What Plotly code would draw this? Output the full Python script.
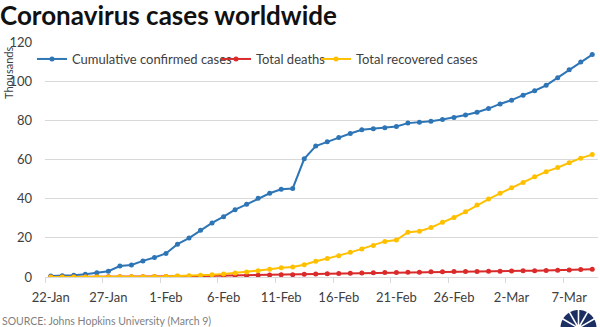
import math
import pandas as pd
import plotly.graph_objects as go

# ---- data (thousands) ----
dates = pd.date_range("2020-01-22", "2020-03-09", freq="D")
confirmed = [0.555, 0.654, 0.941, 1.434, 2.118, 2.927, 5.578, 6.166, 8.234, 9.927,
             12.038, 16.787, 19.881, 23.892, 27.635, 30.794, 34.391, 37.120, 40.150, 42.762,
             44.802, 45.221, 60.368, 66.885, 69.030, 71.224, 73.258, 75.136, 75.639, 76.197,
             76.823, 78.579, 78.965, 79.568, 80.413, 81.395, 82.754, 84.120, 86.011,
             88.369, 90.306, 92.840, 95.120, 97.886, 101.801, 105.847, 109.821, 113.590]
deaths = [0.017, 0.018, 0.026, 0.042, 0.056, 0.082, 0.131, 0.133, 0.171, 0.213,
          0.259, 0.362, 0.426, 0.492, 0.564, 0.634, 0.719, 0.806, 0.906, 1.013,
          1.113, 1.118, 1.371, 1.523, 1.666, 1.770, 1.868, 2.007, 2.122, 2.247,
          2.251, 2.458, 2.469, 2.629, 2.708, 2.770, 2.814, 2.872, 2.941,
          2.996, 3.085, 3.160, 3.254, 3.348, 3.460, 3.558, 3.802, 3.988]
recovered = [0.028, 0.030, 0.036, 0.039, 0.052, 0.061, 0.107, 0.126, 0.143, 0.222,
             0.284, 0.472, 0.623, 0.852, 1.124, 1.487, 2.011, 2.616, 3.244, 3.946,
             4.683, 5.150, 6.295, 8.058, 9.395, 10.865, 12.583, 14.352, 16.121, 18.177,
             18.890, 22.886, 23.394, 25.227, 27.905, 30.384, 33.277, 36.711, 39.782,
             42.716, 45.602, 48.228, 51.170, 53.796, 55.865, 58.358, 60.694, 62.494]
series_names = ["Cumulative confirmed cases", "Total deaths", "Total recovered cases"]
series_colors = ["#2E75B6", "#DA2A2A", "#FFC000"]
y_ticks = [0, 20, 40, 60, 80, 100, 120]

FONT = "Lato"
W, H = 600, 327
L, R, T, B = 45, 2, 42, 50
PW, PH = W - L - R, H - T - B


def px(xp):
    return (xp - L) / PW


def py(yp):
    return (H - B - yp) / PH


fig = go.Figure()
legend_ids = ["legend", "legend2", "legend3"]
for vals, name, color, lg in zip([confirmed, deaths, recovered], series_names, series_colors, legend_ids):
    fig.add_trace(go.Scatter(
        x=dates, y=vals, name=name, mode="lines+markers",
        line=dict(color=color, width=2),
        marker=dict(color=color, size=5),
        legend=lg,
    ))

legend_common = dict(orientation="h", xref="container", yref="container",
                     xanchor="left", yanchor="middle", bgcolor="rgba(0,0,0,0)",
                     font=dict(family=FONT, size=13, color="#404040"),
                     itemwidth=30, borderwidth=0)
fig.update_layout(
    width=W, height=H,
    margin=dict(l=L, r=R, t=T, b=B, autoexpand=False),
    paper_bgcolor="white", plot_bgcolor="white",
    font=dict(family=FONT, color="#595959"),
    showlegend=True,
    legend=dict(x=32 / W, y=1 - 59 / H, **legend_common),
    legend2=dict(x=216 / W, y=1 - 59 / H, **legend_common),
    legend3=dict(x=316 / W, y=1 - 59 / H, **legend_common),
    xaxis=dict(
        type="date",
        range=["2020-01-21 12:00", "2020-03-09 12:00"],
        tick0="2020-01-22", dtick=5 * 86400000, tickformat="%-d-%b",
        showgrid=False, ticks="", ticklabelstandoff=8,
        showline=True, linecolor="#D9D9D9", linewidth=1,
        tickfont=dict(family=FONT, size=13, color="#404040"),
        minor=dict(tick0="2020-01-21 12:00", dtick=5 * 86400000, ticks="outside",
                   ticklen=5, tickcolor="#D9D9D9", showgrid=False),
    ),
    yaxis=dict(
        range=[0, 120], tickvals=y_ticks, showgrid=True, gridcolor="#D9D9D9",
        gridwidth=1, zeroline=False, showline=False, ticks="",
        ticklabelstandoff=12,
        tickfont=dict(family=FONT, size=13, color="#404040"),
    ),
)

fig.add_annotation(text="<b>Coronavirus cases worldwide</b>", xref="paper", yref="paper",
                   x=px(-2), y=py(15), xanchor="left", yanchor="middle", showarrow=False,
                   font=dict(family=FONT, size=26, color="#111111"))
fig.add_annotation(text="Thousands", textangle=-90, xref="paper", yref="paper",
                   x=px(8), y=py(73), xanchor="center", yanchor="middle",
                   showarrow=False, font=dict(family=FONT, size=11, color="#404040"))
fig.add_annotation(text="SOURCE: Johns Hopkins University (March 9)", xref="paper", yref="paper",
                   x=px(0), y=py(321), xanchor="left", yanchor="middle",
                   showarrow=False, font=dict(family=FONT, size=10.5, color="#7F7F7F"))

# NBC peacock logo (decoration)
cx, cy = 578.5, 328
for i in range(6):
    ang = math.radians(180 - (i + 0.5) * 30)
    r1, r2, half = 3.0, 18, math.radians(12.5)
    path = "M {},{} ".format(px(cx + r1 * math.cos(ang)), py(cy - r1 * math.sin(ang)))
    for k in range(13):
        a = ang - half + 2 * half * k / 12
        path += "L {},{} ".format(px(cx + r2 * math.cos(a)), py(cy - r2 * math.sin(a)))
    path += "Z"
    fig.add_shape(type="path", path=path, xref="paper", yref="paper",
                  fillcolor="#1B2F63", line=dict(width=0), layer="above")

fig.write_html("out.html")
